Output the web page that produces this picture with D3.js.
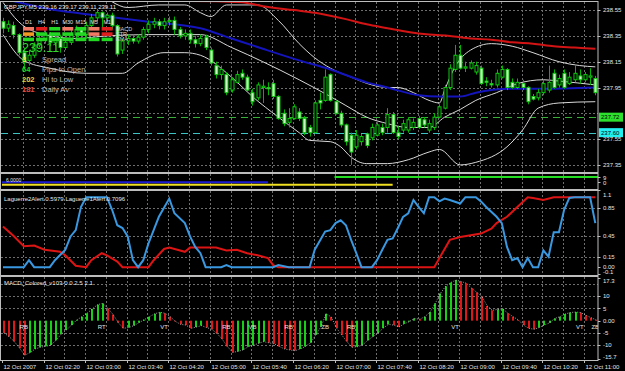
<!DOCTYPE html>
<html lang="en">
<head>
<meta charset="UTF-8">
<title>GBPJPY,M5</title>
<script src="https://d3js.org/d3.v7.min.js"></script>
<style>
  body { margin: 0; background: #000; }
  svg { display: block; font-family: "Liberation Sans", Arial, sans-serif; }
</style>
</head>
<body>
<svg id="chart" width="625" height="371"></svg>
<script>
// ---- data ----
const opens = [238.46,238.41,238.43,238.36,238.22,238.16,238.20,238.28,238.32,238.36,
  238.30,238.33,238.26,238.30,238.36,238.40,238.36,238.43,238.49,238.53,
  238.49,238.51,238.43,238.24,238.31,238.33,238.31,238.34,238.40,238.44,
  238.46,238.43,238.46,238.47,238.40,238.35,238.37,238.32,238.29,238.34,
  238.24,238.12,238.05,238.05,237.93,237.99,238.06,238.03,237.91,237.87,
  237.95,237.95,237.98,237.88,237.75,237.68,237.71,237.76,237.71,237.64,
  237.60,237.85,237.85,238.05,237.84,237.75,237.66,237.58,237.49,237.53,
  237.59,237.56,237.58,237.64,237.64,237.74,237.60,237.62,237.62,237.64,
  237.71,237.70,237.62,237.64,237.72,237.79,237.95,238.09,238.20,238.10,
  238.10,238.07,238.10,238.00,237.98,237.97,238.03,238.09,237.99,237.95,
  237.98,237.95,237.88,237.87,237.91,237.93,238.06,237.97,238.06,237.98,
  238.01,238.04,238.01,238.03,238.02];
const highs = [238.49,238.47,238.46,238.37,238.26,238.24,238.30,238.35,238.40,238.38,
  238.36,238.36,238.33,238.40,238.43,238.42,238.46,238.52,238.56,238.54,
  238.53,238.53,238.44,238.33,238.36,238.36,238.36,238.42,238.47,238.49,
  238.48,238.49,238.50,238.50,238.42,238.40,238.40,238.35,238.36,238.36,
  238.26,238.15,238.12,238.07,238.03,238.08,238.09,238.05,237.94,237.99,
  238.01,237.99,238.01,237.89,237.78,237.79,237.82,237.79,237.73,237.66,
  237.85,237.91,238.09,238.06,237.85,237.77,237.67,237.60,237.62,237.59,
  237.60,237.67,237.68,237.67,237.79,237.76,237.65,237.70,237.72,237.71,
  237.73,237.72,237.70,237.75,237.82,237.97,238.13,238.28,238.28,238.15,
  238.16,238.15,238.12,238.03,238.01,238.09,238.12,238.10,238.02,238.02,
  238.01,237.96,237.90,237.94,238.01,238.12,238.09,238.05,238.09,238.07,
  238.13,238.09,238.07,238.10,238.04];
const lows = [238.37,238.38,238.33,238.20,238.09,238.12,238.18,238.26,238.29,238.27,
  238.27,238.22,238.24,238.28,238.33,238.32,238.33,238.41,238.46,238.40,
  238.46,238.40,238.19,238.21,238.28,238.29,238.29,238.32,238.37,238.41,
  238.40,238.40,238.43,238.36,238.33,238.32,238.29,238.26,238.27,238.24,
  238.12,238.02,238.01,237.89,237.91,237.98,238.01,237.91,237.81,237.85,
  237.83,237.89,237.86,237.70,237.65,237.64,237.70,237.69,237.58,237.57,
  237.59,237.78,237.84,237.84,237.74,237.64,237.50,237.35,237.47,237.50,
  237.48,237.54,237.57,237.58,237.60,237.59,237.55,237.60,237.60,237.62,
  237.63,237.64,237.60,237.62,237.71,237.78,237.93,238.07,238.09,238.07,
  238.09,238.05,237.97,237.96,237.95,237.95,238.02,237.93,237.94,237.94,
  237.93,237.82,237.85,237.85,237.89,237.91,237.94,237.95,237.94,237.97,
  237.99,237.98,237.99,237.97,237.89];
const closes = [238.41,238.44,238.36,238.22,238.16,238.20,238.28,238.32,238.36,238.30,
  238.33,238.26,238.30,238.36,238.40,238.36,238.43,238.49,238.53,238.49,
  238.51,238.43,238.21,238.31,238.33,238.31,238.34,238.40,238.44,238.46,
  238.43,238.46,238.47,238.40,238.35,238.37,238.32,238.29,238.33,238.26,
  238.14,238.05,238.09,237.91,238.01,238.05,238.03,237.93,237.84,237.97,
  237.96,237.94,237.88,237.71,237.67,237.71,237.80,237.71,237.60,237.60,
  237.83,237.83,238.03,237.85,237.75,237.66,237.53,237.45,237.58,237.57,
  237.50,237.64,237.66,237.60,237.74,237.60,237.57,237.67,237.70,237.68,
  237.64,237.66,237.67,237.72,237.80,237.95,238.10,238.20,238.10,238.11,
  238.14,238.12,237.98,237.99,237.97,238.06,238.09,237.95,237.95,237.99,
  237.95,237.84,237.86,237.91,237.98,237.99,237.95,238.02,237.95,238.03,
  238.06,238.01,238.05,238.04,237.91];

// moving averages / bands: [bar, price]
const blueMA = [[0,238.64],[3,238.61],[10,238.55],[18,238.51],[28,238.46],[38,238.41],[44,238.33],
  [50,238.25],[57,238.16],[63,238.09],[70,237.99],[74,237.95],[80,237.89],[84,237.88],[88,237.88],
  [91,237.91],[98,237.94],[104,237.94],[114,237.95]];
const redMA = [[24,238.66],[26,238.62],[36,238.62],[46,238.61],[50,238.58],[56,238.55],[60,238.53],
  [66,238.48],[70,238.44],[74,238.41],[78,238.38],[82,238.36],[86,238.35],[90,238.33],[94,238.32],
  [98,238.30],[102,238.29],[106,238.27],[110,238.26],[114,238.25]];
const bbUpper = [[0,238.74],[18,238.67],[24,238.57],[30,238.59],[35,238.59],[38,238.53],[40,238.50],
  [43,238.59],[49,238.59],[53,238.47],[57,238.29],[60,238.18],[63,238.10],[67,238.03],[71,237.97],
  [74,237.95],[76,237.95],[79,237.91],[82,237.85],[84,237.83],[85,237.93],[87,238.11],[90,238.24],
  [94,238.29],[98,238.27],[102,238.22],[107,238.15],[111,238.12],[114,238.11]];
const bbMiddle = [[0,238.61],[3,238.46],[8,238.36],[14,238.33],[20,238.35],[28,238.36],[38,238.36],
  [44,238.26],[50,238.15],[57,238.01],[63,237.88],[66,237.81],[70,237.72],[74,237.67],[78,237.64],
  [82,237.64],[85,237.72],[88,237.78],[91,237.85],[95,237.91],[99,237.98],[104,238.01],[107,238.00],
  [114,237.97]];
const bbLower = [[0,238.36],[4,238.16],[9,238.10],[16,238.06],[23,238.06],[26,238.14],[31,238.22],
  [35,238.22],[38,238.20],[44,238.03],[48,237.88],[53,237.72],[57,237.60],[59,237.54],[63,237.53],
  [65,237.49],[67,237.41],[70,237.36],[74,237.36],[78,237.39],[82,237.45],[84,237.47],[88,237.35],
  [91,237.37],[97,237.49],[100,237.62],[103,237.79],[107,237.83],[114,237.84]];
const levels = [237.72, 237.60];
const priceTicks = [238.55, 238.35, 238.15, 237.95, 237.75, 237.55, 237.35];
const timeLabels = ["12 Oct 2007","12 Oct 02:20","12 Oct 03:00","12 Oct 03:40","12 Oct 04:20",
  "12 Oct 05:00","12 Oct 05:40","12 Oct 06:20","12 Oct 07:00","12 Oct 07:40","12 Oct 08:20",
  "12 Oct 09:00","12 Oct 09:40","12 Oct 10:20","12 Oct 11:00"];

// small signal panel: start bar, end bar, level
const sigFrom = [64, 0, 0];
const sigTo = [114, 51, 75];
const sigLevel = [9, 0, -4];
const sigTicks = [9, 0];

// laguerre: [bar, value]
const lagRed = [[0,0.58],[2,0.45],[4,0.30],[6,0.31],[8,0.25],[11,0.22],[12,0.17],[14,0.02],[16,0],
  [17,0.10],[19,0.20],[20,0.17],[22,0.08],[23,0],[28,0],[29,0.10],[31,0.26],[32,0.28],[35,0.22],
  [36,0.28],[41,0.28],[43,0.24],[45,0.25],[47,0.20],[49,0.17],[51,0.13],[52,0.03],[53,0],[83,0],
  [86,0.39],[88,0.43],[92,0.48],[94,0.55],[95,0.63],[97,0.72],[99,0.86],[101,1.0],[102,0.99],
  [104,0.96],[106,1.0],[114,1.0]];
const lagBlue = [[0,0],[4,0],[5,0.10],[6,0],[9,0],[10,0.10],[12,0.25],[13,0.44],[14,0.53],[15,0.86],
  [16,1.0],[20,1.0],[21,0.82],[22,0.6],[23,0.56],[24,0.44],[25,0.10],[26,0],[27,0.10],[28,0.34],
  [29,0.53],[30,0.72],[32,0.98],[33,0.77],[35,0.63],[36,0.44],[37,0.29],[38,0.20],[39,0],[42,0],
  [43,0.03],[44,0],[52,0],[53,0.03],[55,0],[59,0],[60,0.25],[62,0.51],[63,0.53],[64,0.63],[65,0.67],
  [66,0.6],[67,0.39],[68,0.20],[69,0],[71,0],[72,0.10],[73,0.25],[74,0.39],[75,0.41],[76,0.56],
  [77,0.72],[78,0.77],[79,0.96],[80,0.86],[81,0.77],[82,1.0],[83,1.0],[84,0.94],[85,0.98],[86,0.96],
  [88,0.91],[89,1.0],[91,1.0],[92,0.94],[93,0.86],[95,0.72],[96,0.63],[97,0.29],[98,0.10],[99,0.13],
  [100,0],[101,0.13],[102,0],[103,0],[104,0.24],[105,0.15],[106,0.5],[107,0.5],[108,0.82],[109,0.99],
  [110,1.0],[113,1.0],[114,0.63]];
const lagTicks = [1.1, 0.85, 0.45, 0.15, 0, -0.1];
const lagTickText = ["1.1", "0.85", "0.45", "0.15", "0.00", "-0.1"];

// macd histogram, one value per bar
const macd = [-5.0,-6.5,-8.5,-11.2,-14.0,-13.0,-11.5,-10.8,-10.4,-9.9,
  -8.0,-5.5,-3.8,-1.8,0.3,1.6,3.0,4.8,6.5,7.0,
  5.0,2.5,-0.8,-3.1,-2.8,-2.0,-0.8,0.4,1.6,2.8,
  3.4,3.0,1.6,-0.3,-1.5,-1.8,-3.1,-2.6,-2.0,-2.8,
  -3.5,-5.2,-7.5,-10.5,-12.9,-12.5,-11.9,-10.6,-10.0,-9.2,
  -8.5,-9.0,-9.4,-10.5,-11.5,-11.9,-12.2,-11.5,-10.5,-9.0,
  -5.8,-2.5,2.8,1.5,-3.0,-5.8,-8.5,-10.8,-10.6,-9.9,
  -8.0,-6.5,-5.0,-3.0,-1.5,-1.8,-2.6,-1.3,-0.4,0.9,
  0.6,1.6,3.5,7.0,11.1,14.0,15.5,16.5,15.9,15.2,
  13.2,11.5,9.8,6.0,4.2,4.6,4.8,3.0,1.6,0.3,
  -1.8,-3.1,-3.5,-2.8,-1.8,-0.9,0.9,1.6,2.7,3.3,
  3.5,3.3,2.2,1.2,0.3];
const macdTicks = [17.3, 10, 5, 0, -5, -10, -15.7];
const macdTickText = ["17.3", "10", "5", "0.00", "-5", "-10", "-15.7"];
const macdTags = [[4,"RB"],[19,"RT"],[31,"VT"],[43,"RB"],[48,"VB"],[55,"RB"],[62,"ZB"],[67,"RB"],
  [87,"VT"],[111,"VT"],[114,"ZB"]];

// dashboard in the top left
const tfNames = ["D1","H4","H1","M30","M15","M5","M1"];
const rowNames = ["MACD","STR","EMA"];
const tfState = [
  ["weak","down","up","weak","up","weak","down"],
  ["warn","up","up","up","up","weak","down"],
  ["up","up","up","up","up","up","up"]];
const infoValues = ["3","64","202","181"];
const infoLabels = ["Spread","Pips to Open","Hi to Low","Daily Av"];

// ---- drawing ----
const svg = d3.select('#chart');
svg.append('rect').attr('width', 625).attr('height', 371).attr('fill', '#000');

const right = 598;
const panels = {
  main: [2, 172], sig: [174, 189], lag: [191, 275], macd: [277, 360]
};
const x = d3.scaleLinear().domain([0, 114]).range([3, 595.3]);
const yMain = d3.scaleLinear().domain([237.35, 238.55]).range([164.9, 10.1]);
const ySig = d3.scaleLinear().domain([0, 9]).range([182.3, 176.9]);
const yLag = d3.scaleLinear().domain([-0.1, 1.1]).range([274.2, 190.2]);
const yMacd = d3.scaleLinear().domain([-15.7, 17.3]).range([359.3, 278.1]);

const defs = svg.append('defs');
Object.entries(panels).forEach(([k, p]) => {
  defs.append('clipPath').attr('id', 'clip-' + k)
    .append('rect').attr('x', 1).attr('y', p[0]).attr('width', right - 1).attr('height', p[1] - p[0]);
});

const gridColor = '#6e6e6e';
const grid = svg.append('g').attr('stroke', gridColor).attr('stroke-dasharray', '2,2').attr('stroke-width', 1);
d3.range(4, 115, 4).forEach(b => {
  Object.values(panels).forEach(p => {
    grid.append('line').attr('x1', Math.round(x(b)) - 0.5).attr('x2', Math.round(x(b)) - 0.5)
      .attr('y1', p[0]).attr('y2', p[1]);
  });
});
priceTicks.forEach(t => grid.append('line').attr('x1', 1).attr('x2', right)
  .attr('y1', Math.round(yMain(t)) + 0.5).attr('y2', Math.round(yMain(t)) + 0.5));
[0.85, 0.45, 0.15].forEach(t => grid.append('line').attr('x1', 1).attr('x2', right)
  .attr('y1', Math.round(yLag(t)) + 0.5).attr('y2', Math.round(yLag(t)) + 0.5));
[15, 10, 5, -5, -10].forEach(t => grid.append('line').attr('x1', 1).attr('x2', right)
  .attr('y1', Math.round(yMacd(t)) + 0.5).attr('y2', Math.round(yMacd(t)) + 0.5));

// main panel
const gMain = svg.append('g').attr('clip-path', 'url(#clip-main)');
const levelColors = ['#36b036', '#3cc4c4'];
levels.forEach((lv, k) => {
  gMain.append('line').attr('x1', 1).attr('x2', right)
    .attr('y1', Math.round(yMain(lv)) + 0.5).attr('y2', Math.round(yMain(lv)) + 0.5)
    .attr('stroke', levelColors[k]).attr('stroke-dasharray', '7,5');
});

const priceLine = d3.line().x(d => x(d[0])).y(d => yMain(d[1])).curve(d3.curveMonotoneX);
[bbUpper, bbMiddle, bbLower].forEach(s => {
  gMain.append('path').attr('d', priceLine(s)).attr('fill', 'none')
    .attr('stroke', '#d8d8d8').attr('stroke-width', 1);
});
gMain.append('path').attr('d', priceLine(redMA)).attr('fill', 'none')
  .attr('stroke', '#d41414').attr('stroke-width', 2);
gMain.append('path').attr('d', priceLine(blueMA)).attr('fill', 'none')
  .attr('stroke', '#1414bc').attr('stroke-width', 2);

const candles = gMain.append('g');
opens.forEach((o, i) => {
  const c = closes[i];
  const cx = Math.round(x(i)) + 0.5;
  candles.append('line').attr('x1', cx).attr('x2', cx)
    .attr('y1', yMain(highs[i])).attr('y2', yMain(lows[i]))
    .attr('stroke', '#00b400');
  const top = yMain(Math.max(o, c)), bot = yMain(Math.min(o, c));
  candles.append('rect').attr('x', cx - 1.5).attr('width', 3)
    .attr('y', top).attr('height', Math.max(1, bot - top))
    .attr('fill', c >= o ? '#000' : '#c8f5c0')
    .attr('stroke', '#10c810').attr('stroke-width', 1);
});

// dashboard
const dash = svg.append('g');
const cellColor = {weak: '#f07a66', down: '#e01c1c', up: '#22d822', warn: '#f09a24'};
tfNames.forEach((n, c) => {
  const cx = 23 + c * 13.1;
  dash.append('text').attr('x', cx + 5.5).attr('y', 23.5).attr('text-anchor', 'middle')
    .attr('font-size', 5.5).attr('fill', '#e0e0e0').text(n);
  tfState.forEach((row, r) => {
    dash.append('rect').attr('x', cx).attr('y', 27 + r * 5.3).attr('width', 11).attr('height', 3.6)
      .attr('fill', cellColor[row[c]]);
  });
});
rowNames.forEach((n, r) => dash.append('text').attr('x', 116).attr('y', 30.5 + r * 5.3)
  .attr('font-size', 5.5).attr('fill', '#d0d0d0').text(n));
dash.append('text').attr('x', 22).attr('y', 52).attr('font-size', 12.5).attr('fill', '#2ed82e').text('239.11');
const infoColors = ['#f0e040', '#22d822', '#f0d040', '#e04a3a'];
infoValues.forEach((v, k) => {
  dash.append('text').attr('x', 22).attr('y', 62 + k * 10).attr('font-size', 7.5)
    .attr('font-weight', 'bold').attr('fill', infoColors[k]).text(v);
  dash.append('text').attr('x', 42).attr('y', 62 + k * 10).attr('font-size', 7.5)
    .attr('fill', '#b8b8b8').text(infoLabels[k]);
});
svg.append('text').attr('x', 4).attr('y', 8.5).attr('font-size', 6).attr('fill', '#eeeeee')
  .text('GBPJPY,M5  239.16 239.17 239.11 239.11');

// price boxes on the axis
const boxFill = ['#2ee02e', '#22f0f0'];
levels.forEach((lv, k) => {
  const yy = yMain(lv);
  svg.append('rect').attr('x', 599).attr('y', yy - 4.5).attr('width', 24).attr('height', 9)
    .attr('fill', boxFill[k]);
  svg.append('text').attr('x', 601).attr('y', yy + 2.2).attr('font-size', 6).attr('fill', '#000')
    .text(lv.toFixed(2));
});

// signal panel
const gSig = svg.append('g').attr('clip-path', 'url(#clip-sig)');
const sigColors = ['#22dd22', '#1a1ad0', '#f0e020'];
sigLevel.forEach((lv, k) => {
  gSig.append('line').attr('x1', x(sigFrom[k]) - 1).attr('x2', sigTo[k] === 114 ? right : x(sigTo[k]))
    .attr('y1', ySig(lv)).attr('y2', ySig(lv)).attr('stroke', sigColors[k]).attr('stroke-width', 2);
});
svg.append('text').attr('x', 6).attr('y', 181.5).attr('font-size', 5).attr('fill', '#e0e0e0').text('6.0000');

// laguerre panel
const gLag = svg.append('g').attr('clip-path', 'url(#clip-lag)');
const lagLine = d3.line().x(d => x(d[0])).y(d => yLag(d[1]));
gLag.append('path').attr('d', lagLine(lagRed)).attr('fill', 'none')
  .attr('stroke', '#dd1414').attr('stroke-width', 2);
gLag.append('path').attr('d', lagLine(lagBlue)).attr('fill', 'none')
  .attr('stroke', '#3a98e0').attr('stroke-width', 2);
svg.append('text').attr('x', 4).attr('y', 201).attr('font-size', 6).attr('fill', '#e8e8e8')
  .text('Laguerre2Alert 0.5979  Laguerre1Alert 0.7096');

// macd panel
const gMacd = svg.append('g').attr('clip-path', 'url(#clip-macd)');
macd.forEach((v, i) => {
  const up = i > 0 && v >= macd[i - 1];
  const cx = Math.round(x(i));
  gMacd.append('rect').attr('x', cx).attr('width', 2)
    .attr('y', Math.min(yMacd(v), yMacd(0))).attr('height', Math.abs(yMacd(v) - yMacd(0)))
    .attr('fill', up ? '#18d018' : '#dc1818');
});
gMacd.append('path').attr('d', d3.line().x((d, i) => x(i) + 1).y(d => yMacd(d))(macd))
  .attr('fill', 'none').attr('stroke', '#c8c8c8').attr('stroke-width', 0.8).attr('stroke-dasharray', '1,1.5');
macdTags.forEach(([b, t]) => gMacd.append('text').attr('x', x(b)).attr('y', yMacd(0) + 8)
  .attr('text-anchor', 'middle').attr('font-size', 6).attr('fill', '#e0e0e0').text(t));
svg.append('text').attr('x', 4).attr('y', 285).attr('font-size', 6).attr('fill', '#e8e8e8')
  .text('MACD_Colored_v103-0.0 2.5 2.1');

// frames and separators
const frame = svg.append('g').attr('fill', 'none').attr('stroke', '#bdbdbd');
Object.values(panels).forEach(p => {
  frame.append('rect').attr('x', 0.5).attr('y', p[0] - 0.5).attr('width', right - 0.5).attr('height', p[1] - p[0] + 1);
});

// right axis labels
const axisText = svg.append('g').attr('font-size', 6).attr('fill', '#e4e4e4');
function axisLabels(vals, texts, scale, p) {
  vals.forEach((v, k) => {
    const yy = Math.max(p[0] + 3.5, Math.min(p[1] - 3, scale(v)));
    axisText.append('text').attr('x', 603).attr('y', yy + 2.2).text(texts[k]);
    frame.append('line').attr('x1', right).attr('x2', right + 2.5)
      .attr('y1', Math.round(scale(v)) + 0.5).attr('y2', Math.round(scale(v)) + 0.5);
  });
}
const mainTicksShown = priceTicks.filter(t => t !== 237.75);
axisLabels(mainTicksShown, mainTicksShown.map(t => t.toFixed(2)), yMain, panels.main);
axisLabels(sigTicks, sigTicks.map(String), ySig, panels.sig);
axisLabels(lagTicks, lagTickText, yLag, panels.lag);
axisLabels(macdTicks, macdTickText, yMacd, panels.macd);

// time axis
timeLabels.forEach((t, j) => {
  const tx = Math.round(x(j * 8)) - 0.5;
  frame.append('line').attr('x1', tx).attr('x2', tx).attr('y1', 360).attr('y2', 363);
  svg.append('text').attr('x', tx + 1).attr('y', 369).attr('font-size', 6).attr('fill', '#e4e4e4').text(t);
});
</script>
</body>
</html>
